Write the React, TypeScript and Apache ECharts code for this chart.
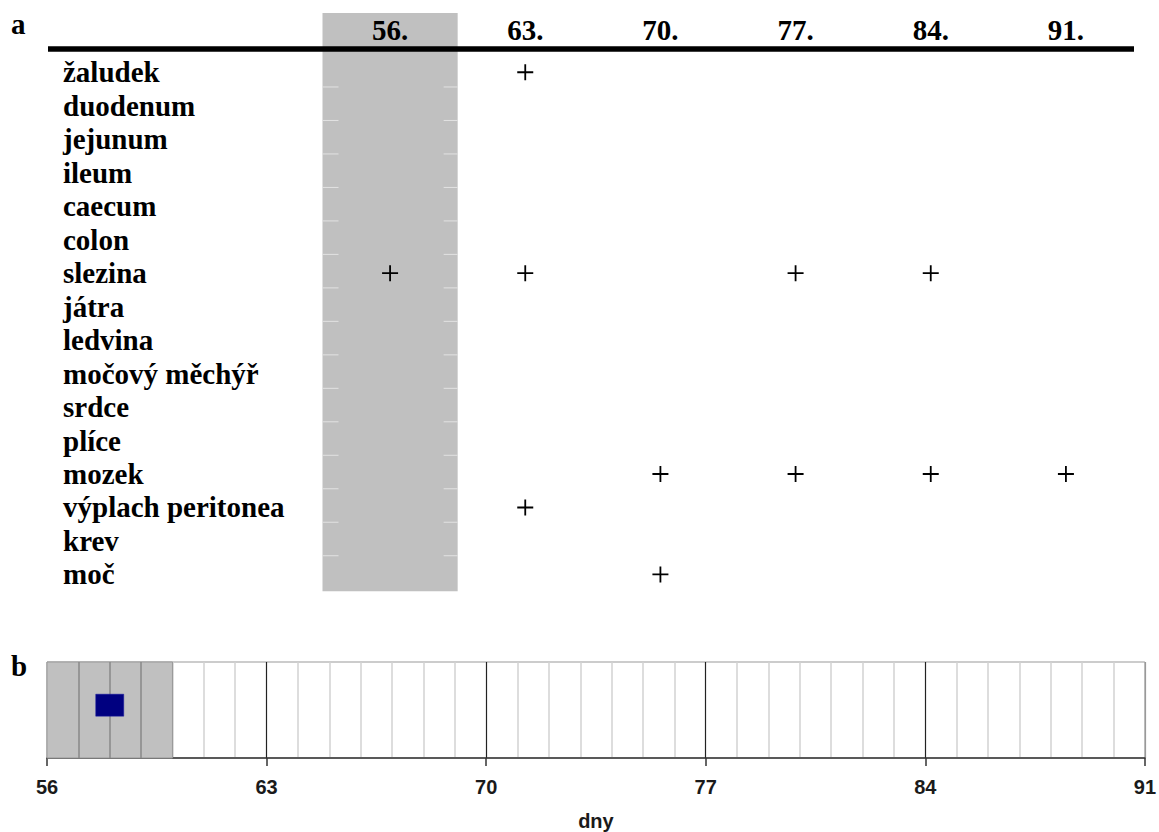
import React, { useEffect, useRef } from "react";
import * as echarts from "echarts";

// ---- data ----
const dayColumns = ["56.", "63.", "70.", "77.", "84.", "91."];
const organs = [
  "žaludek",
  "duodenum",
  "jejunum",
  "ileum",
  "caecum",
  "colon",
  "slezina",
  "játra",
  "ledvina",
  "močový měchýř",
  "srdce",
  "plíce",
  "mozek",
  "výplach peritonea",
  "krev",
  "moč",
];
const positiveFindings: [string, string][] = [
  ["63.", "žaludek"],
  ["56.", "slezina"],
  ["63.", "slezina"],
  ["77.", "slezina"],
  ["84.", "slezina"],
  ["70.", "mozek"],
  ["77.", "mozek"],
  ["84.", "mozek"],
  ["91.", "mozek"],
  ["63.", "výplach peritonea"],
  ["70.", "moč"],
];
const shadedColumn = "56.";
const timelineMin = 56;
const timelineMax = 91;
const timelineStep = 7;
const timelineShade = [56, 60];
const sampleDays = [58];
const sampleLevel = 0.55;
const axisName = "dny";

const SERIF = "Liberation Serif";
const SANS = "Liberation Sans";

export default function App() {
  const ref = useRef<HTMLDivElement>(null);
  useEffect(() => {
    if (!ref.current) return;
    const chart = echarts.init(ref.current, undefined, { renderer: "svg" });
    const shadeInnerDays: number[] = [];
    for (let d = timelineShade[0] + 1; d < timelineShade[1]; d++) shadeInnerDays.push(d);

    const option: any = {
      animation: false,
      backgroundColor: "#ffffff",
      grid: [
        { left: 322.5, right: 25.5, top: 55.5, bottom: 240.8, show: false },
        {
          left: 47,
          right: 12,
          top: 662,
          bottom: 74,
          show: true,
          borderColor: "#999",
          borderWidth: 1,
          backgroundColor: "transparent",
        },
      ],
      xAxis: [
        {
          gridIndex: 0,
          type: "category",
          data: dayColumns,
          position: "top",
          z: 10,
          axisLine: { show: false },
          axisTick: { show: false },
          splitLine: { show: false },
          axisLabel: {
            interval: 0,
            fontFamily: SERIF,
            fontWeight: "bold",
            fontSize: 29,
            color: "#000",
            margin: 11,
          },
        },
        {
          gridIndex: 1,
          type: "value",
          min: timelineMin,
          max: timelineMax,
          interval: timelineStep,
          name: axisName,
          nameLocation: "middle",
          nameGap: 53,
          nameTextStyle: { fontFamily: SANS, fontSize: 20, fontWeight: "bold", color: "#1a1a1a" },
          axisLine: { show: true, lineStyle: { color: "#333", width: 1.5 } },
          axisTick: { show: true, length: 8, lineStyle: { color: "#333", width: 1.5 } },
          axisLabel: {
            fontFamily: SANS,
            fontSize: 20,
            fontWeight: "bold",
            color: "#1a1a1a",
            margin: 19,
          },
          splitLine: {
            show: true,
            lineStyle: { color: ["#999", "#222", "#222", "#222", "#222", "#999"], width: 1.2 },
          },
          minorTick: { show: false, splitNumber: 7 },
          minorSplitLine: { show: true, lineStyle: { color: "#d2d2d2", width: 1.5 } },
        },
      ],
      yAxis: [
        {
          gridIndex: 0,
          type: "category",
          data: organs,
          inverse: true,
          z: 10,
          axisLine: { show: false },
          axisTick: { show: false },
          splitLine: { show: false },
          axisLabel: {
            interval: 0,
            fontFamily: SERIF,
            fontWeight: "bold",
            fontSize: 29,
            color: "#000",
            align: "left",
            margin: 259.5,
          },
        },
        { gridIndex: 1, type: "value", min: 0, max: 1, show: false },
      ],
      series: [
        {
          type: "custom",
          xAxisIndex: 0,
          yAxisIndex: 0,
          clip: false,
          z: 1,
          data: [[dayColumns.indexOf(shadedColumn), 0]],
          renderItem: (params: any, api: any) => {
            const cs = params.coordSys;
            const c = api.coord([api.value(0), api.value(1)]);
            const w = Math.abs(api.size([1, 0])[0]);
            const rowH = Math.abs(api.size([0, 1])[1]);
            const x0 = c[0] - w / 2;
            const x1 = c[0] + w / 2;
            const bottom = cs.y + cs.height;
            const children: any[] = [
              {
                type: "rect",
                shape: { x: x0, y: 13, width: w, height: bottom - 13 },
                style: { fill: "#c0c0c0" },
              },
            ];
            for (let i = 1; i < organs.length; i++) {
              const yb = cs.y + i * rowH - 2;
              children.push({
                type: "line",
                shape: { x1: x0, y1: yb, x2: x0 + 16, y2: yb },
                style: { stroke: "#e2e2e2", lineWidth: 1 },
              });
              children.push({
                type: "line",
                shape: { x1: x1 - 14, y1: yb, x2: x1, y2: yb },
                style: { stroke: "#e2e2e2", lineWidth: 1 },
              });
            }
            return { type: "group", children };
          },
        },
        {
          type: "scatter",
          xAxisIndex: 0,
          yAxisIndex: 0,
          z: 5,
          symbol: "path://M7.1,0H8.9V7.1H16V8.9H8.9V16H7.1V8.9H0V7.1H7.1Z",
          symbolSize: 16,
          itemStyle: { color: "#000", opacity: 1 },
          data: positiveFindings.map(([d, o]) => [d, o]),
        },
        {
          type: "scatter",
          xAxisIndex: 1,
          yAxisIndex: 1,
          z: 2,
          symbolSize: 0,
          data: [],
          markArea: {
            silent: true,
            itemStyle: { color: "#c0c0c0", borderColor: "#999", borderWidth: 1, opacity: 1 },
            data: [[{ xAxis: timelineShade[0] }, { xAxis: timelineShade[1] }]],
          },
        },
        {
          type: "scatter",
          xAxisIndex: 1,
          yAxisIndex: 1,
          z: 3,
          symbolSize: 0,
          data: [],
          markLine: {
            silent: true,
            symbol: ["none", "none"],
            label: { show: false },
            lineStyle: { color: "#888", width: 1.5, type: "solid", opacity: 1 },
            data: shadeInnerDays.map((d) => ({ xAxis: d })),
          },
        },
        {
          type: "scatter",
          xAxisIndex: 1,
          yAxisIndex: 1,
          z: 6,
          symbol: "rect",
          symbolSize: [28, 22],
          itemStyle: { color: "#000080", borderColor: "#1a1aa0", borderWidth: 0.5, opacity: 1 },
          data: sampleDays.map((d) => [d, sampleLevel]),
        },
      ],
      graphic: [
        {
          type: "line",
          z: 100,
          shape: { x1: 48, y1: 49, x2: 1134, y2: 49 },
          style: { stroke: "#000", lineWidth: 5.5 },
        },
        {
          type: "text",
          z: 100,
          x: 11,
          y: 23.5,
          style: {
            text: "a",
            font: `bold 29px "${SERIF}"`,
            fill: "#000",
            verticalAlign: "middle",
            align: "left",
          },
        },
        {
          type: "text",
          z: 100,
          x: 11,
          y: 666,
          style: {
            text: "b",
            font: `bold 29px "${SERIF}"`,
            fill: "#000",
            verticalAlign: "middle",
            align: "left",
          },
        },
      ],
    };
    chart.setOption(option);
    return () => chart.dispose();
  }, []);
  return (
    <div
      ref={ref}
      style={{ position: "fixed", left: 0, top: 0, width: 1159, height: 832, background: "#fff" }}
    />
  );
}
